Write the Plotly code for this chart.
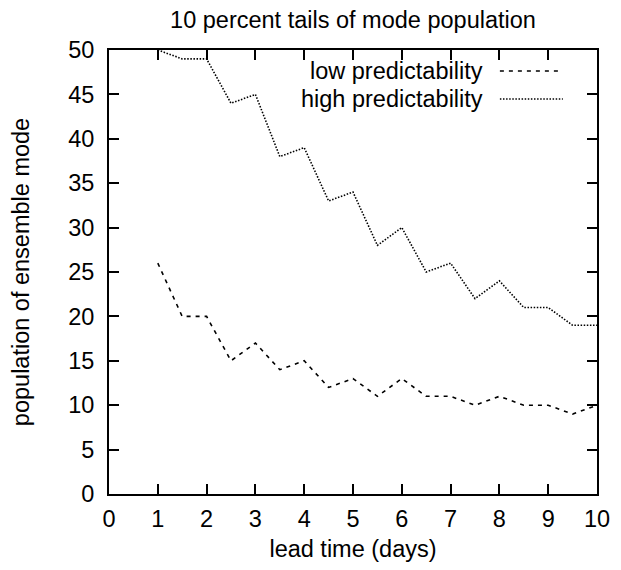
import plotly.graph_objects as go

lead_time = [1, 1.5, 2, 2.5, 3, 3.5, 4, 4.5, 5, 5.5, 6, 6.5, 7, 7.5, 8, 8.5, 9, 9.5, 10]
low_pred = [26, 20, 20, 15, 17, 14, 15, 12, 13, 11, 13, 11, 11, 10, 11, 10, 10, 9, 10]
high_pred = [50, 49, 49, 44, 45, 38, 39, 33, 34, 28, 30, 25, 26, 22, 24, 21, 21, 19, 19]
series_names = ["low predictability", "high predictability"]
x_ticks = list(range(0, 11))
y_ticks = list(range(0, 51, 5))

FONT = "Liberation Sans, Arial, sans-serif"
FS = 23.5
dashes = ["4px,5px", "1.5px,1.6px"]

W, H = 605, 554
ML, MR, MT, MB = 101, 16, 42, 68

fig = go.Figure()
fig.add_trace(go.Scatter(x=lead_time, y=low_pred, mode="lines", name=series_names[0],
                         line=dict(color="black", width=1.6, dash=dashes[0]), showlegend=False))
fig.add_trace(go.Scatter(x=lead_time, y=high_pred, mode="lines", name=series_names[1],
                         line=dict(color="black", width=1.6, dash=dashes[1]), showlegend=False))

# gnuplot-style key: text right-aligned, sample line on the right
rows_y = [0.9527, 0.8896]
for name, yy, d in zip(series_names, rows_y, dashes):
    fig.add_annotation(xref="paper", yref="paper", x=0.768, y=yy, text=name,
                       showarrow=False, xanchor="right", yanchor="middle", borderpad=0,
                       font=dict(family=FONT, size=FS, color="black"))
    fig.add_shape(type="line", xref="paper", yref="paper", x0=0.801, x1=0.93, y0=yy, y1=yy,
                  line=dict(color="black", width=1.6, dash=d))

axis_common = dict(showgrid=False, zeroline=False, showline=True, linecolor="black", linewidth=2,
                   mirror="allticks", ticks="inside", ticklen=10, tickwidth=1.5, tickcolor="black",
                   automargin=False,
                   tickfont=dict(family=FONT, size=FS, color="black"))

fig.update_xaxes(range=[0, 10], tickvals=x_ticks, ticklabelstandoff=3,
                 title=dict(text="lead time (days)", font=dict(family=FONT, size=FS, color="black"), standoff=19),
                 **axis_common)
fig.update_yaxes(range=[0, 50], tickvals=y_ticks, ticklabelstandoff=8,
                 title=dict(text="population of ensemble mode", font=dict(family=FONT, size=FS, color="black"), standoff=34),
                 **axis_common)

fig.update_layout(
    width=W, height=H,
    margin=dict(l=ML, r=MR, t=MT, b=MB, pad=0),
    paper_bgcolor="white", plot_bgcolor="white",
    title=dict(text="10 percent tails of mode population", x=(ML + 488 / 2) / W, xanchor="center",
               y=1 - 4 / H, yanchor="top", pad=dict(t=0, b=0),
               font=dict(family=FONT, size=FS, color="black")),
    font=dict(family=FONT, size=FS, color="black"),
)

fig.write_html("out.html")
